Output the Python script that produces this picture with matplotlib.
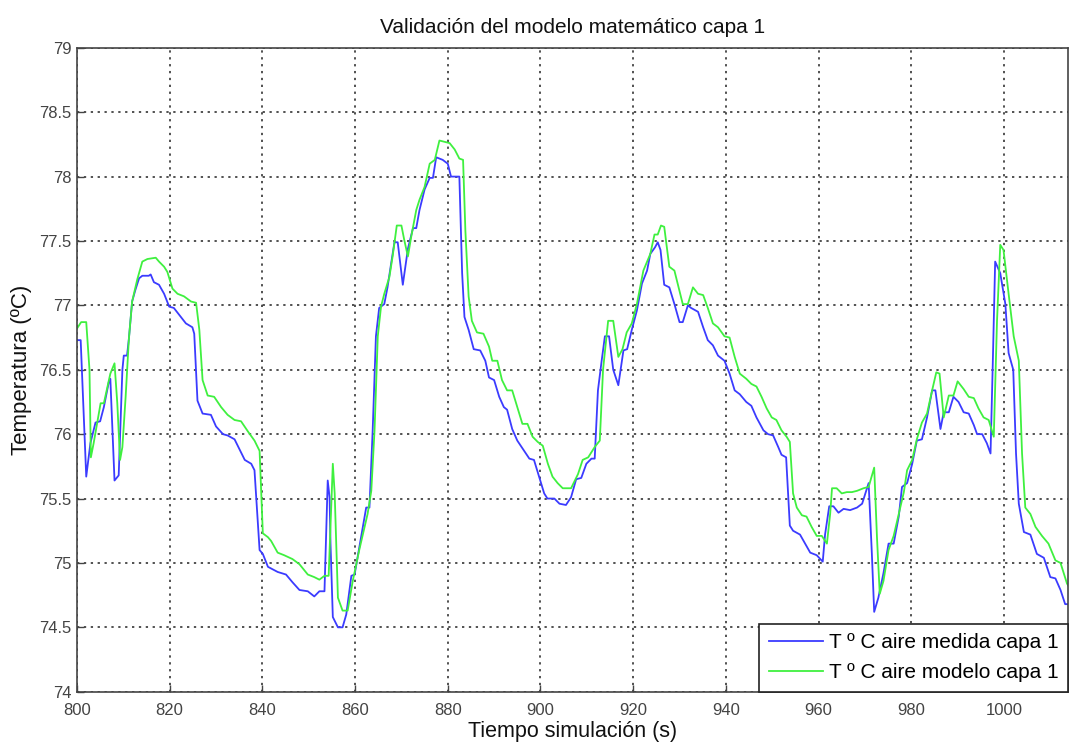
import matplotlib.pyplot as plt

# -- data (time in s, temperature in degC) --
t_medida = [800.0, 800.8, 802.0, 802.9, 804.0, 805.0, 805.8, 806.9, 807.2, 808.1,
            809.0, 809.8, 810.1, 810.8, 811.2, 811.9, 812.6, 813.4, 814.1, 815.5,
            815.9, 816.6, 817.7, 818.8, 819.9, 820.9, 822.4, 823.5, 824.9, 825.3,
            826.0, 827.1, 828.9, 830.0, 831.5, 832.5, 834.0, 836.2, 837.6, 838.3,
            839.4, 840.1, 841.2, 843.3, 845.1, 846.5, 848.0, 849.8, 851.2, 852.3,
            853.4, 854.1, 854.5, 854.7, 855.2, 856.3, 857.3, 858.1, 859.2, 859.9,
            860.9, 862.4, 863.1, 863.8, 864.5, 865.2, 866.3, 867.0, 867.8, 868.5,
            869.2, 870.3, 871.4, 872.5, 873.2, 873.9, 875.0, 876.1, 876.8, 877.5,
            878.9, 880.0, 880.7, 882.5, 883.1, 883.6, 884.5, 885.6, 887.0, 888.1,
            888.9, 890.0, 891.1, 892.1, 892.8, 893.9, 895.0, 896.5, 897.6, 898.6,
            899.7, 900.8, 901.5, 903.0, 904.1, 905.5, 906.6, 907.7, 908.8, 909.9,
            911.0, 911.7, 912.4, 913.2, 913.9, 914.8, 915.7, 916.8, 917.9, 918.7,
            919.7, 920.8, 921.9, 923.0, 923.7, 924.7, 925.3, 925.9, 926.7, 927.8,
            928.9, 930.0, 930.7, 931.8, 932.5, 934.0, 935.1, 936.1, 937.2, 938.3,
            939.7, 940.8, 941.9, 943.0, 944.4, 945.5, 946.6, 948.1, 949.1, 950.2,
            951.3, 952.0, 953.0, 953.8, 954.5, 956.0, 957.1, 958.2, 959.6, 960.9,
            961.4, 962.3, 963.2, 964.3, 965.4, 966.8, 968.3, 969.4, 970.8, 971.5,
            972.0, 972.9, 974.0, 975.1, 976.2, 977.3, 978.0, 979.1, 980.2, 981.2,
            982.3, 983.4, 984.5, 985.2, 986.3, 987.0, 988.1, 989.1, 990.2, 991.3,
            992.4, 993.5, 994.2, 995.3, 996.3, 997.1, 997.6, 998.1, 999.2, 1000.3,
            1001.0, 1002.0, 1002.6, 1003.2, 1004.3, 1005.7, 1007.1, 1008.6, 1010.0, 1011.1,
            1012.2, 1013.2, 1014.1]
T_medida = [76.73, 76.73, 75.67, 75.93, 76.09, 76.10, 76.21, 76.41, 76.43, 75.64,
            75.68, 76.50, 76.61, 76.61, 76.74, 77.03, 77.12, 77.21, 77.23, 77.23,
            77.24, 77.18, 77.16, 77.09, 76.99, 76.98, 76.91, 76.86, 76.83, 76.78,
            76.26, 76.16, 76.15, 76.06, 76.00, 75.99, 75.96, 75.80, 75.77, 75.72,
            75.10, 75.07, 74.97, 74.93, 74.91, 74.85, 74.79, 74.78, 74.74, 74.78,
            74.78, 75.64, 75.51, 75.15, 74.58, 74.50, 74.50, 74.60, 74.90, 74.91,
            75.12, 75.43, 75.43, 76.03, 76.76, 76.98, 77.01, 77.14, 77.33, 77.49,
            77.49, 77.16, 77.44, 77.60, 77.60, 77.74, 77.90, 77.99, 77.99, 78.15,
            78.13, 78.10, 78.00, 78.00, 77.25, 76.91, 76.81, 76.66, 76.65, 76.57,
            76.44, 76.42, 76.29, 76.21, 76.19, 76.04, 75.95, 75.87, 75.81, 75.80,
            75.67, 75.54, 75.50, 75.50, 75.46, 75.45, 75.51, 75.65, 75.66, 75.77,
            75.81, 75.81, 76.34, 76.57, 76.76, 76.76, 76.50, 76.38, 76.65, 76.66,
            76.81, 76.96, 77.17, 77.27, 77.40, 77.45, 77.49, 77.43, 77.16, 77.14,
            77.01, 76.87, 76.87, 77.00, 76.98, 76.95, 76.83, 76.73, 76.69, 76.61,
            76.57, 76.47, 76.34, 76.31, 76.25, 76.22, 76.13, 76.03, 76.00, 75.99,
            75.90, 75.84, 75.82, 75.29, 75.25, 75.22, 75.15, 75.08, 75.06, 75.01,
            75.22, 75.44, 75.44, 75.39, 75.42, 75.41, 75.43, 75.46, 75.62, 75.07,
            74.62, 74.73, 74.92, 75.15, 75.15, 75.36, 75.59, 75.62, 75.77, 75.95,
            75.96, 76.13, 76.34, 76.34, 76.04, 76.17, 76.17, 76.29, 76.25, 76.17,
            76.16, 76.07, 76.00, 76.00, 75.93, 75.85, 76.57, 77.34, 77.25, 77.01,
            76.63, 76.50, 75.85, 75.46, 75.24, 75.22, 75.07, 75.04, 74.89, 74.88,
            74.79, 74.68, 74.68]

t_modelo = [800.0, 800.9, 802.0, 802.7, 803.0, 803.6, 805.1, 805.8, 807.2, 808.1,
            808.7, 809.3, 809.8, 810.5, 811.2, 811.9, 813.0, 814.1, 815.2, 817.0,
            817.7, 818.8, 819.5, 820.6, 821.7, 823.1, 824.6, 825.7, 826.4, 827.1,
            828.2, 829.6, 831.1, 832.5, 834.0, 835.4, 836.9, 838.3, 839.4, 840.1,
            841.2, 841.9, 843.3, 844.7, 846.5, 848.0, 849.8, 851.2, 852.3, 853.4,
            854.3, 855.2, 855.6, 856.3, 857.3, 858.4, 859.5, 860.9, 862.7, 863.5,
            864.2, 864.9, 865.6, 866.3, 867.4, 868.1, 869.0, 870.0, 870.6, 871.4,
            872.1, 873.2, 873.9, 875.0, 876.1, 877.2, 878.2, 879.3, 880.4, 881.5,
            882.5, 883.3, 883.8, 884.5, 885.2, 886.3, 887.7, 888.9, 889.6, 890.7,
            891.7, 892.8, 893.9, 895.0, 896.1, 897.2, 898.3, 899.4, 900.5, 901.6,
            902.6, 903.7, 904.8, 906.6, 908.1, 909.1, 910.3, 911.7, 912.8, 913.5,
            914.6, 915.7, 916.8, 917.7, 918.6, 919.7, 920.8, 922.2, 923.7, 924.6,
            925.3, 926.0, 926.7, 927.8, 928.9, 930.7, 931.8, 932.9, 934.0, 935.1,
            936.1, 937.2, 938.3, 939.7, 940.8, 941.9, 943.0, 944.4, 945.5, 946.6,
            947.7, 948.8, 949.9, 950.9, 952.0, 953.1, 953.8, 954.5, 955.3, 956.4,
            957.4, 958.5, 959.6, 960.7, 961.8, 962.5, 962.9, 963.9, 965.0, 966.1,
            967.2, 968.3, 969.7, 970.8, 972.0, 972.6, 973.2, 974.0, 975.1, 976.2,
            977.3, 978.4, 979.1, 980.2, 981.2, 982.3, 983.4, 984.5, 985.4, 986.1,
            987.0, 988.1, 989.1, 990.0, 991.3, 992.4, 993.5, 994.5, 995.6, 996.7,
            997.8, 998.5, 999.2, 999.9, 1001.0, 1002.1, 1003.2, 1003.9, 1004.6, 1005.7,
            1006.8, 1008.2, 1009.6, 1011.1, 1012.2, 1013.6, 1014.1]
T_modelo = [76.82, 76.87, 76.87, 76.50, 75.82, 75.93, 76.24, 76.24, 76.47, 76.55,
            76.24, 75.80, 75.90, 76.29, 76.74, 77.03, 77.20, 77.34, 77.36, 77.37,
            77.34, 77.30, 77.26, 77.13, 77.09, 77.07, 77.03, 77.02, 76.81, 76.42,
            76.30, 76.29, 76.21, 76.15, 76.11, 76.10, 76.02, 75.95, 75.87, 75.23,
            75.20, 75.17, 75.08, 75.06, 75.03, 74.99, 74.91, 74.89, 74.87, 74.90,
            74.90, 75.77, 75.54, 74.73, 74.63, 74.63, 74.86, 75.10, 75.38, 75.56,
            76.03, 76.76, 76.99, 77.09, 77.22, 77.38, 77.62, 77.62, 77.51, 77.38,
            77.53, 77.74, 77.82, 77.92, 78.10, 78.13, 78.28, 78.27, 78.26, 78.21,
            78.14, 78.13, 77.58, 77.07, 76.88, 76.79, 76.78, 76.68, 76.57, 76.57,
            76.42, 76.34, 76.34, 76.21, 76.08, 76.08, 75.98, 75.94, 75.91, 75.77,
            75.67, 75.62, 75.58, 75.58, 75.69, 75.80, 75.82, 75.90, 75.95, 76.50,
            76.88, 76.88, 76.60, 76.66, 76.79, 76.86, 77.01, 77.27, 77.40, 77.55,
            77.55, 77.62, 77.61, 77.30, 77.27, 77.01, 77.01, 77.14, 77.09, 77.08,
            76.98, 76.86, 76.83, 76.76, 76.75, 76.60, 76.47, 76.43, 76.39, 76.37,
            76.29, 76.20, 76.13, 76.11, 76.03, 75.98, 75.94, 75.54, 75.43, 75.37,
            75.36, 75.28, 75.21, 75.21, 75.15, 75.38, 75.58, 75.58, 75.54, 75.55,
            75.55, 75.56, 75.58, 75.59, 75.74, 75.20, 74.76, 74.86, 75.10, 75.21,
            75.38, 75.55, 75.72, 75.80, 75.96, 76.09, 76.16, 76.34, 76.48, 76.47,
            76.13, 76.30, 76.30, 76.41, 76.35, 76.29, 76.28, 76.20, 76.13, 76.11,
            75.98, 76.88, 77.47, 77.43, 77.09, 76.76, 76.57, 75.85, 75.43, 75.38,
            75.28, 75.21, 75.15, 75.02, 75.00, 74.84, 74.81]

x_ticks = [800, 820, 840, 860, 880, 900, 920, 940, 960, 980, 1000]
y_ticks = [74, 74.5, 75, 75.5, 76, 76.5, 77, 77.5, 78, 78.5, 79]
y_ticklabels = ['74', '74.5', '75', '75.5', '76', '76.5', '77', '77.5', '78', '78.5', '79']

labels = ['T º C aire medida capa 1', 'T º C aire modelo capa 1']

BLUE = '#3b3bff'
GREEN = '#3ff03f'

plt.rcParams['font.family'] = ['Liberation Sans', 'DejaVu Sans']

fig = plt.figure(figsize=(10.69, 7.47), dpi=100)
ax = fig.add_axes([0.072, 0.074, 0.927, 0.862])

ax.plot(t_medida, T_medida, color=BLUE, lw=1.3, label=labels[0])
ax.plot(t_modelo, T_modelo, color=GREEN, lw=1.3, label=labels[1])

ax.set_xlim(800, 1013.8)
ax.set_ylim(74, 79)
ax.set_xticks(x_ticks)
ax.set_yticks(y_ticks)
ax.set_xticklabels([str(v) for v in x_ticks])
ax.set_yticklabels(y_ticklabels)
ax.tick_params(direction='in', length=5, width=1, colors='#444444', labelsize=12,
               top=False, right=False)
ax.tick_params(axis='x', pad=8)
ax.tick_params(axis='y', pad=4)
ax.grid(True, linestyle=(0, (1.5, 3)), color='#222222', lw=1.1)
for s in ax.spines.values():
    s.set_color('#444444')
    s.set_linewidth(1.2)

ax.set_title('Validación del modelo matemático capa 1', fontsize=15, color='#111111', pad=11)
ax.set_xlabel('Tiempo simulación (s)', fontsize=15.5, color='#111111', labelpad=2)
ax.set_ylabel('Temperatura (ºC)', fontsize=16, color='#111111', labelpad=5)

leg = ax.legend(loc='lower right', borderaxespad=0, fontsize=15, fancybox=False,
                framealpha=1, edgecolor='#222222', handlelength=2.6, handletextpad=0.3,
                labelspacing=0.55, borderpad=0.45)
leg.get_frame().set_linewidth(1.2)

fig.savefig('out.png', dpi=100)
